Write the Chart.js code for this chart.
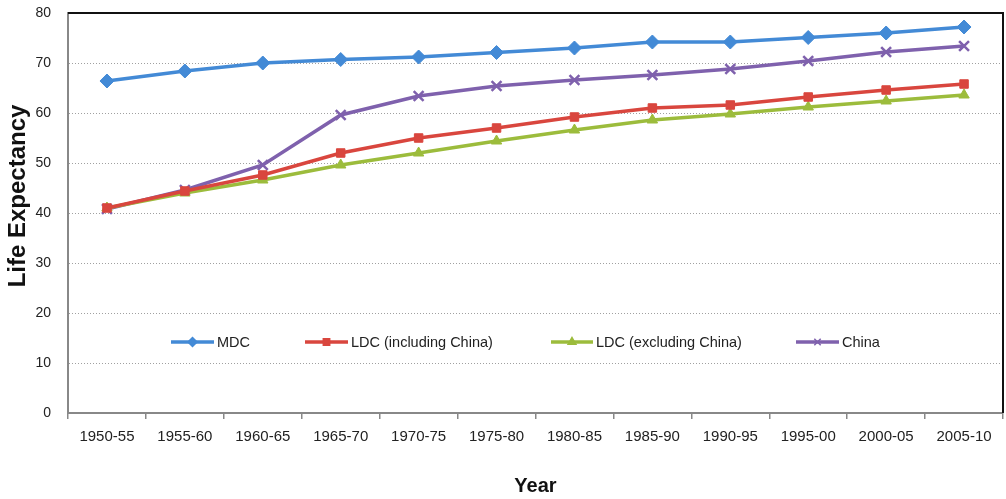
<!DOCTYPE html>
<html><head><meta charset="utf-8">
<script src="https://cdn.jsdelivr.net/npm/chart.js@4/dist/chart.umd.min.js"></script>
<style>html,body{margin:0;padding:0;background:#fff;overflow:hidden}canvas{display:block}</style>
</head><body>
<canvas id="c" width="1006" height="499"></canvas>
<script>
const categories = ["1950-55","1955-60","1960-65","1965-70","1970-75","1975-80","1980-85","1985-90","1990-95","1995-00","2000-05","2005-10"];
const mdc        = [66.4, 68.4, 70.0, 70.7, 71.2, 72.1, 73.0, 74.2, 74.2, 75.1, 76.0, 77.2];
const ldcInc     = [41.0, 44.4, 47.6, 52.0, 55.0, 57.0, 59.2, 61.0, 61.6, 63.2, 64.6, 65.8];
const ldcExc     = [41.0, 44.0, 46.6, 49.6, 52.0, 54.4, 56.6, 58.6, 59.8, 61.2, 62.4, 63.6];
const china      = [40.8, 44.6, 49.6, 59.6, 63.4, 65.4, 66.6, 67.6, 68.8, 70.4, 72.2, 73.4];
const seriesNames = ["MDC", "LDC (including China)", "LDC (excluding China)", "China"];
const yTicks = [0, 10, 20, 30, 40, 50, 60, 70, 80];
const yTitle = "Life Expectancy";
const xTitle = "Year";

const FONT = '"Liberation Sans", Arial, sans-serif';

const colors = ['#438ad6', '#d9463e', '#9cbc3c', '#7f61ad'];
const styles = ['rectRot', 'rect', 'triangle', 'crossRot'];
const radii = [7, 6, 6, 7];

function ds(i, data) {
  return {
    label: seriesNames[i], data,
    borderColor: colors[i], backgroundColor: colors[i],
    pointStyle: styles[i], pointRadius: radii[i], pointHoverRadius: radii[i],
    pointBorderWidth: i === 3 ? 2.5 : 1, pointBorderColor: colors[i], pointBackgroundColor: colors[i],
    borderWidth: 3.5, tension: 0, fill: false
  };
}

const frame = {
  id: 'frame',
  afterDatasetsDraw(chart) {
    const {ctx, chartArea: a} = chart;
    ctx.save();
    ctx.strokeStyle = '#111';
    ctx.lineWidth = 2;
    ctx.beginPath();
    ctx.moveTo(a.left, a.top); ctx.lineTo(a.right, a.top); ctx.lineTo(a.right, a.bottom);
    ctx.stroke();
    ctx.restore();
  }
};

const yTitlePlugin = {
  id: 'yTitlePlugin',
  afterDraw(chart, args, opts) {
    const {ctx} = chart;
    ctx.save();
    ctx.translate(opts.x, opts.y);
    ctx.rotate(-Math.PI / 2);
    ctx.fillStyle = '#111';
    ctx.font = 'bold 24px ' + FONT;
    ctx.textAlign = 'center'; ctx.textBaseline = 'middle';
    ctx.fillText(yTitle, 0, 0);
    ctx.restore();
  }
};

const legendInside = {
  id: 'legendInside',
  afterDraw(chart, args, opts) {
    const {ctx} = chart;
    ctx.save();
    const y = opts.y;
    chart.data.datasets.forEach((d, i) => {
      const [x1, x2] = opts.items[i];
      ctx.strokeStyle = d.borderColor; ctx.lineWidth = 3.5;
      ctx.beginPath(); ctx.moveTo(x1, y); ctx.lineTo(x2, y); ctx.stroke();
      ctx.fillStyle = d.borderColor; ctx.strokeStyle = d.borderColor; ctx.lineWidth = 1.5;
      Chart.helpers.drawPoint(ctx, {pointStyle: d.pointStyle, radius: 4.5, rotation: 0, borderWidth: 1.5}, (x1 + x2) / 2, y);
      ctx.fillStyle = '#222';
      ctx.font = '14.5px ' + FONT;
      ctx.textBaseline = 'middle'; ctx.textAlign = 'left';
      ctx.fillText(d.label, x2 + 3, y + 1);
    });
    ctx.restore();
  }
};

new Chart(document.getElementById('c'), {
  type: 'line',
  data: {
    labels: categories,
    datasets: [ds(0, mdc), ds(1, ldcInc), ds(2, ldcExc), ds(3, china)]
  },
  options: {
    responsive: false, animation: false,
    layout: {autoPadding: false, padding: {top: 13, right: 3, left: 0, bottom: 0}},
    plugins: {
      legend: {display: false}, tooltip: {enabled: false},
      legendInside: {y: 342, items: [[171, 214], [305, 348], [551, 593], [796, 839]]},
      yTitlePlugin: {x: 18, y: 196}
    },
    scales: {
      x: {
        offset: true,
        afterFit(s) { s.height = 86; s.paddingLeft = 0; s.paddingRight = 0; },
        grid: {offset: true, drawOnChartArea: false, drawTicks: true, tickLength: 6, color: '#888', lineWidth: 1.5},
        border: {color: '#888', width: 2},
        ticks: {color: '#222', padding: 9, font: {family: FONT, size: 15}, maxRotation: 0, autoSkip: false},
        title: {display: true, text: xTitle, color: '#111', font: {family: FONT, size: 20, weight: 'bold'}, padding: {top: 0, bottom: 1}}
      },
      y: {
        min: 0, max: 80,
        afterFit(s) { s.width = 68; s.paddingTop = 0; s.paddingBottom = 0; },
        afterBuildTicks(s) { s.ticks = yTicks.map(v => ({value: v})); },
        grid: {
          drawTicks: false,
          color: c => (c.tick.value === 0 || c.tick.value === 80) ? 'rgba(0,0,0,0)' : '#a0a0a0',
          lineWidth: 1
        },
        border: {color: '#888', width: 2, dash: [1, 2]},
        ticks: {color: '#222', padding: 17, font: {family: FONT, size: 14}},
        title: {display: false}
      }
    }
  },
  plugins: [frame, legendInside, yTitlePlugin]
});
</script>
</body></html>
